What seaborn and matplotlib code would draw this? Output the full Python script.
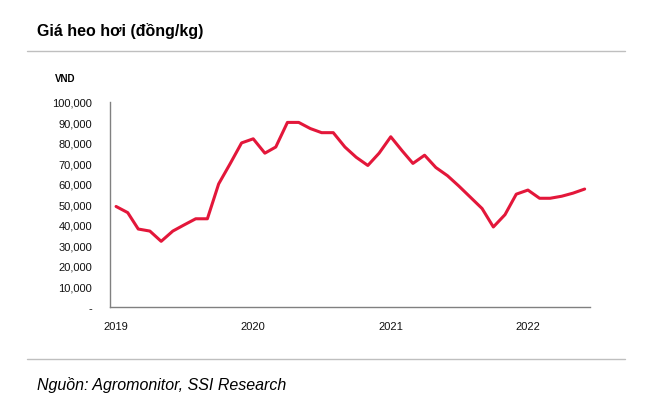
import matplotlib
matplotlib.use('Agg')
import matplotlib.pyplot as plt
from matplotlib.ticker import FuncFormatter
import seaborn as sns
import pandas as pd

# gia heo hoi theo thang, 01/2019 - 06/2022 (dong/kg)
thang = pd.date_range('2019-01-01', periods=42, freq='MS')
gia_2019 = [49000, 46000, 38000, 37000, 32000, 37000, 40000, 43000, 43000, 60000, 70000, 80000]
gia_2020 = [82000, 75000, 78000, 90000, 90000, 87000, 85000, 85000, 78000, 73000, 69000, 75000]
gia_2021 = [83000, 76000, 70000, 74000, 68000, 64000, 59000, 53500, 48000, 39000, 45000, 55000]
gia_2022 = [57000, 53000, 53000, 54000, 55500, 57500]
nam = ['2019', '2020', '2021', '2022']

df = pd.DataFrame({'thang': thang, 'gia': gia_2019 + gia_2020 + gia_2021 + gia_2022})

sns.set_style('white')
fam = ['Liberation Sans', 'DejaVu Sans']
plt.rcParams['font.family'] = fam
plt.rcParams['text.color'] = 'black'

fig = plt.figure(figsize=(6.67, 4.02), dpi=100)
ax = fig.add_axes([0.165, 0.234, 0.72, 0.51])

sns.lineplot(data=df, x='thang', y='gia', color='#E3173A', linewidth=2.2, ax=ax)

ax.set_ylim(0, 100000)
ax.set_yticks(range(0, 100001, 10000))
ax.yaxis.set_major_formatter(FuncFormatter(lambda v, p: '-' if v == 0 else f'{int(v):,}'))
ax.set_xlim(pd.Timestamp('2018-12-16'), pd.Timestamp('2022-06-16'))
ax.set_xticks([pd.Timestamp(y + '-01-01') for y in nam])
ax.set_xticklabels(nam)
ax.set_xlabel('')
ax.set_ylabel('')
ax.tick_params(axis='both', length=0, labelsize=8, colors='#111111')
ax.tick_params(axis='y', pad=13)
ax.tick_params(axis='x', pad=10)
for s in ['top', 'right']:
    ax.spines[s].set_visible(False)
for s in ['left', 'bottom']:
    ax.spines[s].set_color('#808080')
    ax.spines[s].set_linewidth(1)

fig.text(0.082, 0.795, 'VND', fontsize=7, fontweight='bold', family=fam)
fig.text(0.055, 0.91, 'Giá heo hơi (đồng/kg)', fontsize=11.5, fontweight='bold', family=fam)
fig.text(0.055, 0.03, 'Nguồn: Agromonitor, SSI Research', fontsize=11.5, style='italic', family=fam)

fig.add_artist(plt.Line2D([0.04, 0.937], [0.871, 0.871], color='#BFBFBF', linewidth=1))
fig.add_artist(plt.Line2D([0.04, 0.937], [0.104, 0.104], color='#BFBFBF', linewidth=1))

fig.savefig('out.png', dpi=100)
